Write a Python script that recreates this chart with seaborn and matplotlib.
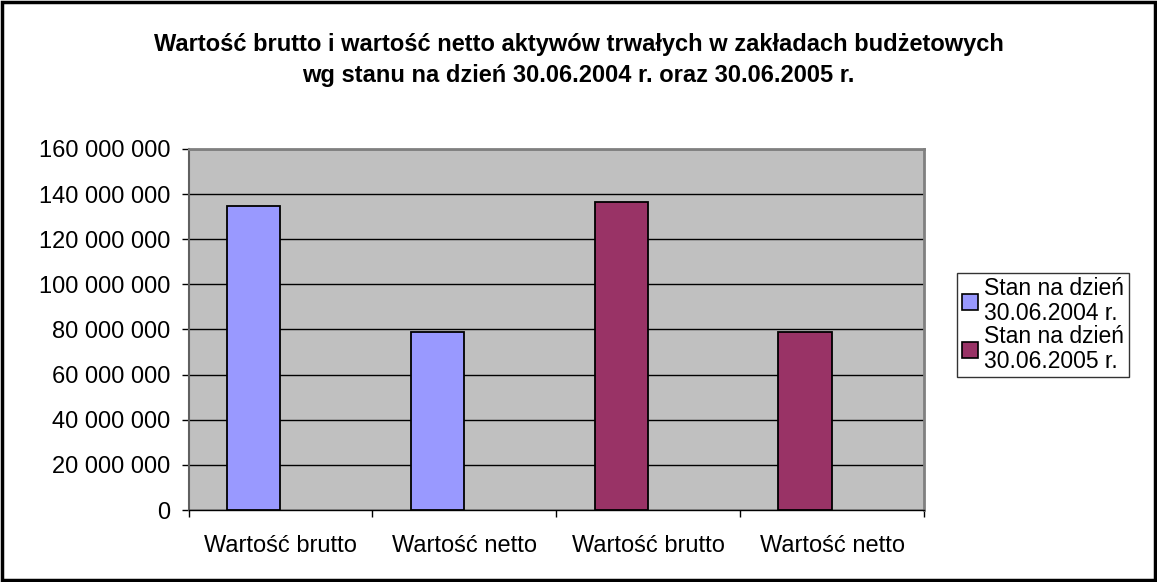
import numpy as np
import pandas as pd
import seaborn as sns
from matplotlib import pyplot as plt
from matplotlib.patches import Rectangle
from matplotlib.ticker import FuncFormatter, MultipleLocator

# data
labels = ["Wartość brutto", "Wartość netto", "Wartość brutto", "Wartość netto"]
series = ["Stan na dzień\n30.06.2004 r.", "Stan na dzień\n30.06.2004 r.",
          "Stan na dzień\n30.06.2005 r.", "Stan na dzień\n30.06.2005 r."]
values = [134_800_000, 79_100_000, 136_300_000, 79_100_000]
colors = ["#9999FF", "#993366"]
title = ("Wartość brutto i wartość netto aktywów trwałych w zakładach budżetowych\n"
         "wg stanu na dzień 30.06.2004 r. oraz 30.06.2005 r.")

sns.set_theme(style="white")
plt.rcParams['font.family'] = ['Liberation Sans', 'DejaVu Sans']
plt.rcParams['text.color'] = 'black'

df = pd.DataFrame({'pos': range(len(labels)), 'series': series, 'value': values})

fig = plt.figure(figsize=(11.57, 5.82), dpi=100)
ax = fig.add_axes([0.163, 0.1237, 0.6357, 0.6203])

sns.barplot(data=df, x='pos', y='value', hue='series', dodge=False, width=0.29,
            palette=colors, saturation=1, edgecolor='black', linewidth=1.3, ax=ax, zorder=3)

# excel puts the bar in the left slot of each category
for cont in ax.containers:
    for p in cont:
        p.set_x(p.get_x() - 0.147)

ax.set_facecolor('#C0C0C0')
ax.set_ylim(0, 160_000_000)
ax.set_xlim(-0.5, len(labels) - 0.5)
ax.yaxis.set_major_locator(MultipleLocator(20_000_000))
ax.yaxis.set_major_formatter(FuncFormatter(lambda v, _: f"{int(v):,}".replace(",", " ")))
ax.grid(axis='y', color='black', linewidth=1, zorder=0)
ax.set_axisbelow(True)

ax.set_xticks(range(len(labels)))
ax.set_xticklabels(labels)
ax.set_xticks(np.arange(-0.5, len(labels), 1), minor=True)
ax.tick_params(axis='x', which='major', length=0, pad=18, labelsize=17, colors='black')
ax.tick_params(axis='x', which='minor', length=5, width=1, direction='out', color='black', bottom=True)
ax.tick_params(axis='y', length=5, width=1, direction='out', pad=8, labelsize=17, colors='black', left=True)
ax.set_xlabel('')
ax.set_ylabel('')

for s in ['top', 'right']:
    ax.spines[s].set_color('#808080')
    ax.spines[s].set_linewidth(2)
ax.spines['left'].set_color('#606060')
ax.spines['left'].set_linewidth(1.5)
ax.spines['bottom'].set_color('black')
ax.spines['bottom'].set_linewidth(1)

leg = ax.legend(loc='center left', bbox_to_anchor=(957 / 1157, 1 - 325 / 582),
                bbox_transform=fig.transFigure, frameon=True, fancybox=False,
                fontsize=16.5, handlelength=0.7, handleheight=0.7, handletextpad=0.3,
                labelspacing=0.0, borderpad=0.2, borderaxespad=0)
leg.get_frame().set_edgecolor('black')
leg.get_frame().set_linewidth(1)
for t in leg.get_texts():
    t.set_linespacing(1.1)
    t.set_color('black')
for h in leg.legend_handles:
    h.set_edgecolor('black')
    h.set_linewidth(1.2)

fig.text(0.5, 1 - 60 / 582, title, ha='center', va='center', fontsize=17,
         fontweight='bold', linespacing=1.45, color='black')

fig.patches.append(Rectangle((0.002, 0.003), 0.996, 0.994, transform=fig.transFigure,
                             fill=False, edgecolor='black', linewidth=2.5))

fig.savefig('out.png', dpi=100, facecolor='white')
